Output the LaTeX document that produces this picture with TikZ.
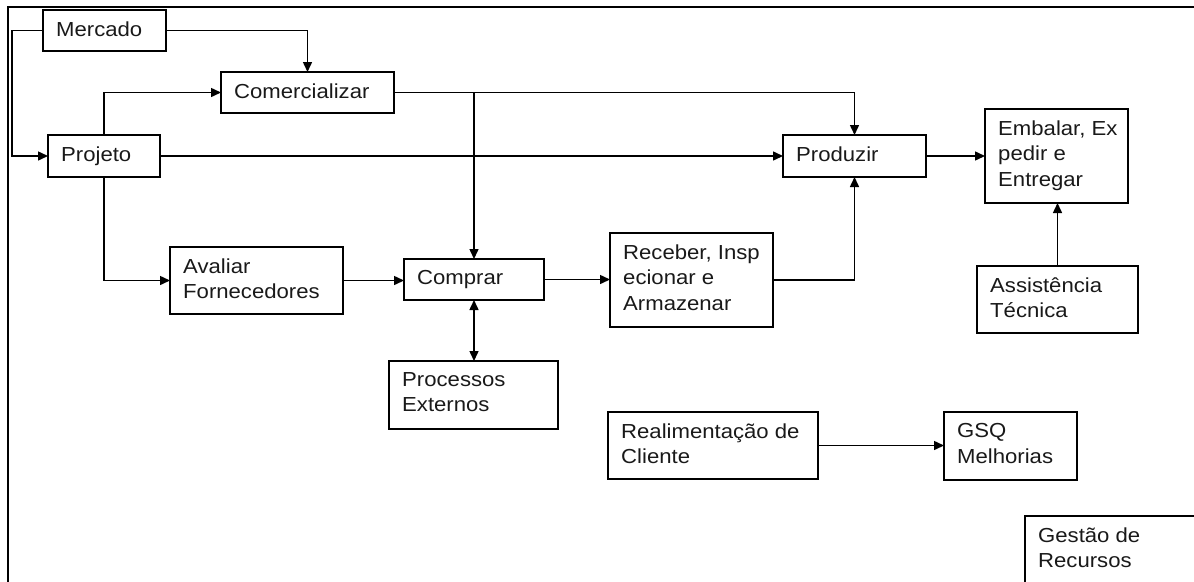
\documentclass[tikz,border=0pt]{standalone}
\usepackage{fontspec}
\setmainfont{Liberation Sans}[FakeStretch=1.09]
\usetikzlibrary{arrows.meta,calc}
\tikzset{
  pbox/.style={draw=black, line width=1.5pt, inner sep=0pt, outer sep=0pt, anchor=north west},
  ptext/.style={anchor=north west, inner sep=0pt, align=left, text=black!90,
    font=\fontsize{20.3}{25.5}\selectfont},
  arr/.style={draw=black, line width=1.5pt, -{Triangle[length=10pt,width=9pt]}},
  arrboth/.style={draw=black, line width=1.5pt, {Triangle[length=10pt,width=9pt]}-{Triangle[length=10pt,width=9pt]}},
  framestyle/.style={draw=black, line width=2.8pt}
}
\newcommand{\pboxnode}[6]{%
  \node[pbox, minimum width=#4pt, minimum height=#5pt] (#1) at (#2,#3) {};
  \node[ptext] (#1-t) at ($(#1.north west)+(13,11.3)$) {#6};
}
\begin{document}
\begin{tikzpicture}[x=1pt,y=-1pt]
\useasboundingbox (0,0) rectangle (1194,581);
\begin{scope}
\clip (0,0) rectangle (1194,581);
\draw[framestyle] (1300,7) -- (8,7) -- (8,700);
\pboxnode{gestao}{1025}{516}{200}{100}{Gestão de\\Recursos}
\end{scope}

\pboxnode{mercado}{43}{10}{123}{41}{Mercado}
\pboxnode{comercializar}{221}{72}{173}{41}{Comercializar}
\pboxnode{projeto}{48}{135}{112}{42}{Projeto}
\pboxnode{produzir}{783}{135}{143}{42}{Produzir}
\pboxnode{embalar}{985}{109}{143}{94}{Embalar, Ex\\pedir e\\Entregar}
\pboxnode{avaliar}{170}{247}{173}{67}{Avaliar\\Fornecedores}
\pboxnode{comprar}{404}{259}{140}{41}{Comprar}
\pboxnode{receber}{610}{233}{163}{94}{Receber, Insp\\ecionar e\\Armazenar}
\pboxnode{assist}{977}{266}{161}{67}{Assistência\\Técnica}
\pboxnode{processos}{389}{361}{169}{68}{Processos\\Externos}
\pboxnode{realim}{608}{412}{210}{67}{Realimentação de\\Cliente}
\pboxnode{gsq}{944}{412}{133}{68}{GSQ\\Melhorias}

% connectors
\draw[arr] (mercado.west) -- ++(-31,0) |- (projeto.west);
\draw[arr] (mercado.east) -| (comercializar.north);
\draw[arr] (projeto.north) |- (comercializar.west);
\draw[arr] (projeto.east) -- (produzir.west);
\draw[arr] (comercializar.east) -| (produzir.north);
\draw[arr] (comercializar.east -| comprar.north) -- (comprar.north);
\draw[arr] (projeto.south) |- (avaliar.west);
\draw[arr] (avaliar.east) -- (avaliar.east -| comprar.west);
\draw[arr] (comprar.east) -- (comprar.east -| receber.west);
\draw[arrboth] (comprar.south) -- (comprar.south |- processos.north);
\draw[arr] (receber.east) -| (produzir.south);
\draw[arr] (produzir.east) -- (produzir.east -| embalar.west);
\draw[arr] (assist.north) -- (assist.north |- embalar.south);
\draw[arr] (realim.east) -- (realim.east -| gsq.west);
\end{tikzpicture}
\end{document}
